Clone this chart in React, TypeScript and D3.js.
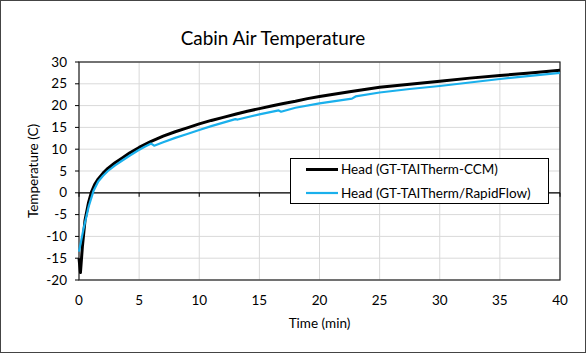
import React from "react";
import * as d3 from "d3";

const title = "Cabin Air Temperature";
const xLabel = "Time (min)";
const yLabel = "Temperature (C)";
const xTicks = [0, 5, 10, 15, 20, 25, 30, 35, 40];
const yTicks = [-20, -15, -10, -5, 0, 5, 10, 15, 20, 25, 30];
const seriesNames = ["Head (GT-TAITherm-CCM)", "Head (GT-TAITherm/RapidFlow)"];
const seriesColors = ["#000000", "#1AB0EC"];

const ccmTime = [0, 0.12, 0.28, 0.5, 0.78, 1.05, 1.3, 1.6, 2.0, 2.4, 3.0, 3.6, 4.2, 5.0, 6.0, 7.0, 8.0, 9.0, 10, 11, 12, 13, 14, 15, 16, 17, 18, 19, 20, 22.5, 25, 27.5, 30, 32.5, 35, 37.5, 40];
const ccmTemp = [-15, -18.3, -12.4, -6.3, -2.4, 0.3, 1.9, 3.2, 4.5, 5.6, 6.9, 8.0, 9.1, 10.4, 11.8, 13.0, 14.0, 14.9, 15.8, 16.6, 17.3, 18.0, 18.7, 19.3, 19.9, 20.5, 21.0, 21.6, 22.1, 23.2, 24.2, 24.9, 25.6, 26.3, 26.9, 27.5, 28.1];

const rfTime = [0, 0.36, 0.8, 1.2, 1.6, 2.0, 2.4, 3.0, 3.6, 4.2, 4.9, 5.5, 6.0, 6.25, 7.0, 8.0, 9.0, 10.0, 11.0, 12.0, 13.0, 13.2, 15.0, 16.6, 16.8, 18.0, 20.0, 22.7, 23.0, 25, 27.5, 30, 32.5, 35, 37.5, 40];
const rfTemp = [-13.5, -8.5, -3.2, 0.4, 2.6, 3.9, 5.0, 6.3, 7.4, 8.5, 9.7, 10.6, 11.3, 10.8, 11.6, 12.6, 13.5, 14.4, 15.3, 16.1, 16.9, 16.8, 18.0, 18.9, 18.6, 19.5, 20.5, 21.6, 22.1, 23.0, 23.8, 24.5, 25.3, 26.1, 26.8, 27.5];

const W = 587;
const H = 354;
const FONT = "Lato, 'Open Sans', sans-serif";

export default function App() {
  const x = d3.scaleLinear().domain([0, 40]).range([79, 560]);
  const y = d3.scaleLinear().domain([-20, 30]).range([280, 62]);
  const line = d3
    .line<[number, number]>()
    .x((d) => x(d[0]))
    .y((d) => y(d[1]));
  const ccm: [number, number][] = ccmTime.map((t, i) => [t, ccmTemp[i]]);
  const rf: [number, number][] = rfTime.map((t, i) => [t, rfTemp[i]]);
  const [x0, x1] = x.range();
  const [y0, y1] = y.range();

  return (
    <svg
      width={W}
      height={H}
      style={{ position: "absolute", left: 0, top: 0, display: "block", background: "#fff" }}
      fontFamily={FONT}
    >
      <rect x={0.5} y={0.5} width={W - 2} height={H - 2} fill="#fff" stroke="#444" strokeWidth={1} />
      <text x={273} y={45} textAnchor="middle" fontSize={18.9} fill="#000">
        {title}
      </text>
      {/* gridlines */}
      {xTicks.map((t) => (
        <line key={"gx" + t} x1={x(t)} x2={x(t)} y1={y1} y2={y0} stroke="#d9d9d9" strokeWidth={1} />
      ))}
      {yTicks.map((t) => (
        <line key={"gy" + t} x1={x0} x2={x1} y1={y(t)} y2={y(t)} stroke="#d9d9d9" strokeWidth={1} />
      ))}
      {/* plot border */}
      <rect x={x0} y={y1} width={x1 - x0} height={y0 - y1} fill="none" stroke="#222" strokeWidth={1.2} />
      {/* y axis ticks */}
      {yTicks.map((t) => (
        <g key={"yt" + t}>
          <line x1={x0 - 4} x2={x0} y1={y(t)} y2={y(t)} stroke="#000" />
          <text x={67} y={y(t) + 4.5} textAnchor="end" fontSize={13.5} fill="#000">
            {t}
          </text>
        </g>
      ))}
      {/* x axis at zero */}
      <line x1={x0} x2={x1} y1={y(0)} y2={y(0)} stroke="#000" strokeWidth={1.2} />
      {xTicks.map((t) => (
        <g key={"xt" + t}>
          <line x1={x(t)} x2={x(t)} y1={y(0)} y2={y(0) + 4} stroke="#000" />
          <text x={x(t)} y={305} textAnchor="middle" fontSize={13.5} fill="#000">
            {t}
          </text>
        </g>
      ))}
      <text x={x(20)} y={328} textAnchor="middle" fontSize={13.5} fill="#000">
        {xLabel}
      </text>
      <text
        transform={`translate(38,${y(5)}) rotate(-90)`}
        textAnchor="middle"
        fontSize={13.5}
        fill="#000"
      >
        {yLabel}
      </text>
      {/* series */}
      <path d={line(ccm) || ""} fill="none" stroke={seriesColors[0]} strokeWidth={3} strokeLinejoin="round" />
      <path d={line(rf) || ""} fill="none" stroke={seriesColors[1]} strokeWidth={2.2} strokeLinejoin="round" />
      {/* legend */}
      <rect x={290.5} y={158.5} width={258} height={45} fill="#fff" stroke="#000" strokeWidth={1} />
      {seriesNames.map((n, i) => (
        <g key={n}>
          <line
            x1={306}
            x2={338}
            y1={169.5 + i * 23.5}
            y2={169.5 + i * 23.5}
            stroke={seriesColors[i]}
            strokeWidth={i === 0 ? 3 : 2.2}
          />
          <text x={341} y={174 + i * 23.5} fontSize={13.5} fill="#000">
            {n}
          </text>
        </g>
      ))}
    </svg>
  );
}
